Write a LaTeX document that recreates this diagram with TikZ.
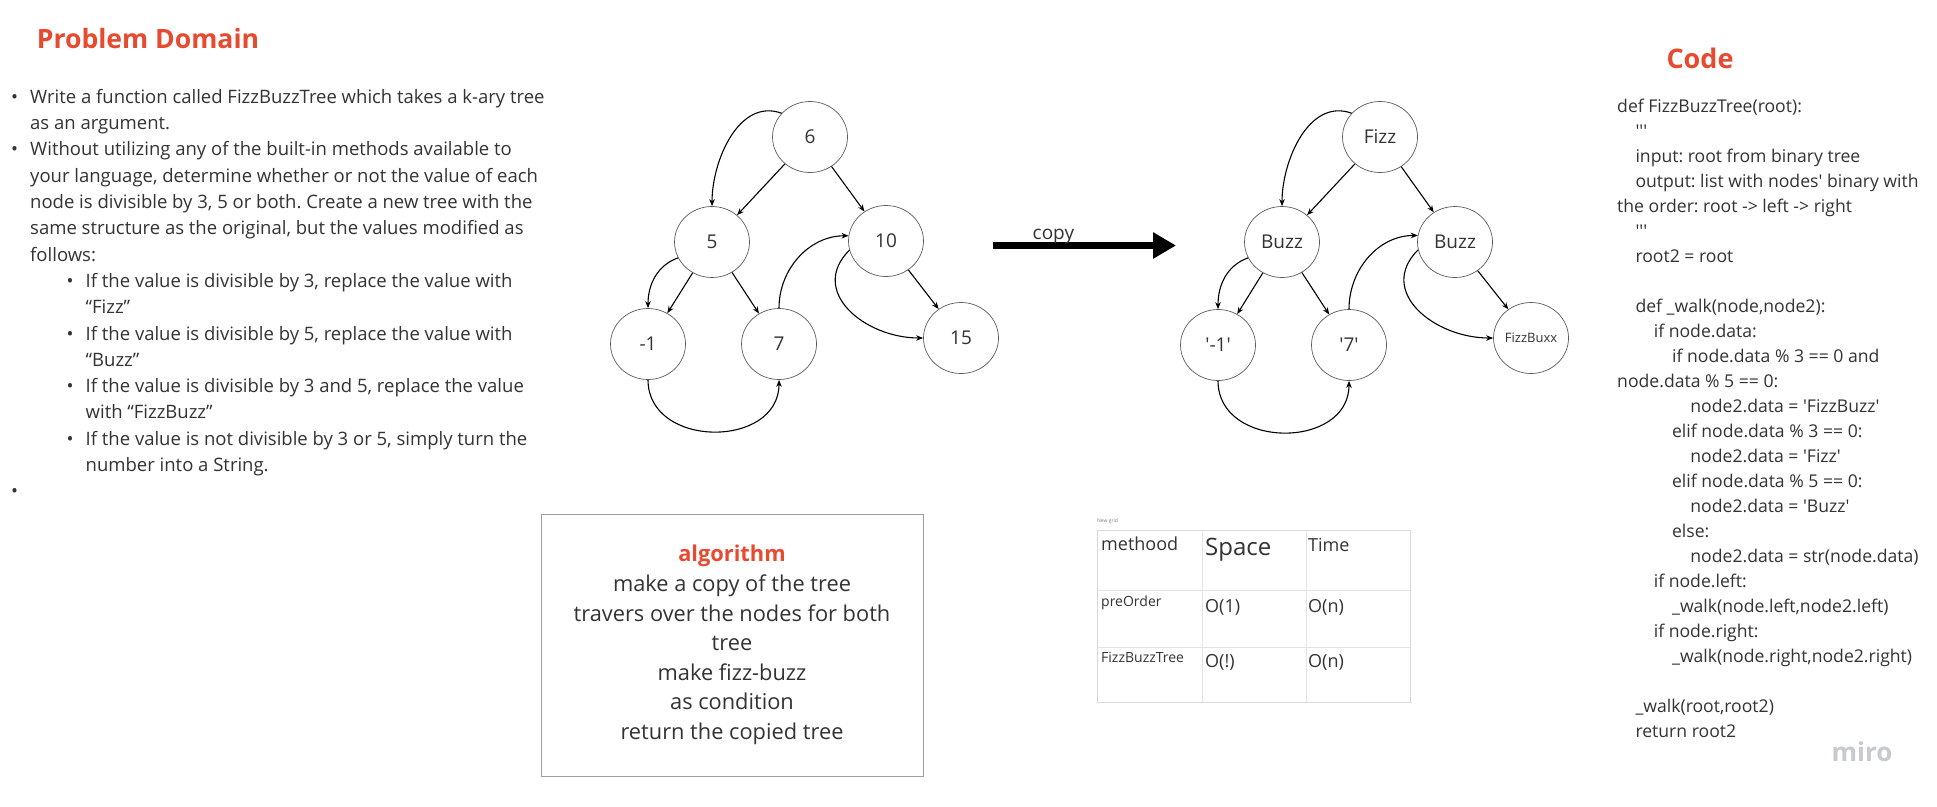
\documentclass[tikz,border=0pt]{standalone}
\usepackage{fontspec}
\setmainfont{Open Sans}
\usetikzlibrary{arrows.meta,positioning,calc,shapes.geometric}

\definecolor{titlered}{HTML}{E84A2F}
\definecolor{bodytext}{HTML}{333333}
\definecolor{ringgray}{HTML}{5A5A5A}
\definecolor{gridline}{HTML}{E4E4E4}
\definecolor{mirogray}{HTML}{C8C9D1}

\frenchspacing
\newcommand{\sq}{\textquotesingle}
\newlength{\codestep}
\setlength{\codestep}{18.3pt}
\newcommand{\codeind}[1]{\hspace*{#1\codestep}}
\newcommand{\bulA}{\llap{\textbullet\hspace{12pt}}}
\newcommand{\bulB}{\hspace*{55.5pt}\llap{\textbullet\hspace{12pt}}}

\tikzset{
  treenode/.style={ellipse, draw=ringgray, line width=0.7pt, minimum width=75pt,
    minimum height=71pt, inner sep=0pt, text=bodytext, font=\fontsize{19}{22}\selectfont},
  link/.style={-{Stealth[length=7pt,width=5.5pt]}, line width=1.1pt, black},
  heading/.style={font=\fontsize{27}{32}\selectfont\bfseries, text=titlered},
  cell/.style={anchor=base west, inner sep=0pt, text=bodytext}
}

\begin{document}
\begin{tikzpicture}[x=1pt,y=1pt]
    \useasboundingbox[fill=white] (0,0) rectangle (1937,-806);

    % Problem domain
    \node[heading, font=\fontsize{26.6}{32}\selectfont\bfseries] (pdtitle) at (148,-39) {Problem Domain};
    \node[anchor=north west, inner sep=0pt, align=left, text=bodytext,
          font=\fontsize{18.5}{26.3}\selectfont] (pdtext) at (30,-89) {%
      \bulA Write a function called FizzBuzzTree which takes a k-ary tree\\
      as an argument.\\
      \bulA Without utilizing any of the built-in methods available to\\
      your language, determine whether or not the value of each\\
      node is divisible by 3, 5 or both. Create a new tree with the\\
      same structure as the original, but the values modified as\\
      follows:\\
      \bulB If the value is divisible by 3, replace the value with\\
      \hspace*{55.5pt}“Fizz”\\
      \bulB If the value is divisible by 5, replace the value with\\
      \hspace*{55.5pt}“Buzz”\\
      \bulB If the value is divisible by 3 and 5, replace the value\\
      \hspace*{55.5pt}with “FizzBuzz”\\
      \bulB If the value is not divisible by 3 or 5, simply turn the\\
      \hspace*{55.5pt}number into a String.\\
      \bulA\strut};

    % Original tree
    \node[treenode] (n6) at (810,-137) {6};
    \node[treenode] (n5) at (712,-242) {5};
    \node[treenode] (n10) at (886,-241) {10};
    \node[treenode] (nm1) at (648,-344) {-1};
    \node[treenode] (n7) at (779,-344) {7};
    \node[treenode] (n15) at (961,-338) {15};

    \draw[link] (n6) -- (n5);
    \draw[link] (n6) -- (n10);
    \draw[link] (n5) -- (nm1);
    \draw[link] (n5) -- (n7);
    \draw[link] (n10) -- (n15);
    \draw[link] (n6.140) to[out=160, in=90] (n5.north);
    \draw[link] (n5.205) to[out=200, in=90] (nm1.north);
    \draw[link] (n7.north) to[out=90, in=180] (n10.172);
    \draw[link] (n10.194) to[out=225, in=180, looseness=1.3] (n15.west);
    \draw[link] (nm1.south) to[out=-90, in=-90, looseness=1.35] (n7.south);

    % Copy arrow
    \coordinate (copyfrom) at (993,-245.5);
    \coordinate (copyto) at (1176,-245.5);
    \draw[line width=7pt, -{Triangle[length=23pt,width=25pt]}] (copyfrom) -- (copyto)
        node[pos=0.33, anchor=base, yshift=6pt, text=bodytext,
             font=\fontsize{19}{22}\selectfont] (copylbl) {copy};

    % Copied tree
    \node[treenode] (f1) at (1380,-137) {Fizz};
    \node[treenode] (b1) at (1282,-242) {Buzz};
    \node[treenode] (b2) at (1455,-242) {Buzz};
    \node[treenode] (s1) at (1218,-345) {\sq-1\sq};
    \node[treenode] (s7) at (1349,-345) {\sq 7\sq};
    \node[treenode, font=\fontsize{13}{15}\selectfont] (fb) at (1531,-338) {FizzBuxx};

    \draw[link] (f1) -- (b1);
    \draw[link] (f1) -- (b2);
    \draw[link] (b1) -- (s1);
    \draw[link] (b1) -- (s7);
    \draw[link] (b2) -- (fb);
    \draw[link] (f1.140) to[out=160, in=90] (b1.north);
    \draw[link] (b1.205) to[out=200, in=90] (s1.north);
    \draw[link] (s7.north) to[out=90, in=180] (b2.170);
    \draw[link] (b2.192) to[out=225, in=180, looseness=1.3] (fb.west);
    \draw[link] (s1.south) to[out=-90, in=-90, looseness=1.35] (s7.south);

    % Algorithm box
    \node[draw=gray!75, line width=1pt, minimum width=382pt, minimum height=262pt,
          align=center, text=bodytext, font=\fontsize{21.8}{29.6}\selectfont]
          (algo) at (732,-645) {%
      {\bfseries\color{titlered}algorithm}\\
      make a copy of the tree\\
      travers over the nodes for both\\
      tree\\
      make fizz-buzz\\
      as condition\\
      return the copied tree};

    % Complexity grid
    \node[anchor=base west, inner sep=0pt, text=gray, font=\fontsize{5}{6}\selectfont]
          (gridcap) at (1097,-522) {New grid};
    \draw[gridline, line width=0.8pt] (1202,-530) -- (1202,-702);
    \draw[gridline, line width=0.8pt] (1306,-530) -- (1306,-702);
    \draw[gridline, line width=0.8pt] (1097,-590) -- (1410,-590);
    \draw[gridline, line width=0.8pt] (1097,-647) -- (1410,-647);
    \draw[gray!30, line width=1pt] (1097,-530) rectangle (1410,-702);
    \node[cell, font=\fontsize{18}{20}\selectfont] (hmeth) at (1101,-550) {methood};
    \node[cell, font=\fontsize{24}{26}\selectfont] (hspace) at (1205,-555) {Space};
    \node[cell, font=\fontsize{18}{20}\selectfont] (htime) at (1308,-551) {Time};
    \node[cell, font=\fontsize{14}{16}\selectfont] (rpre) at (1101,-606) {preOrder};
    \node[cell, font=\fontsize{18}{20}\selectfont] (rpres) at (1205,-612) {O(1)};
    \node[cell, font=\fontsize{18}{20}\selectfont] (rpret) at (1308,-612) {O(n)};
    \node[cell, font=\fontsize{14}{16}\selectfont] (rfbt) at (1101,-662) {FizzBuzzTree};
    \node[cell, font=\fontsize{18}{20}\selectfont] (rfbs) at (1205,-667) {O(!)};
    \node[cell, font=\fontsize{18}{20}\selectfont] (rfbtt) at (1308,-667) {O(n)};

    % Code
    \node[heading] (codetitle) at (1700,-58) {Code};
    \node[anchor=north west, inner sep=0pt, align=left, text=bodytext,
          font=\fontsize{17.6}{25}\selectfont] (codetext) at (1617,-98.7) {%
      def FizzBuzzTree(root):\\
      \codeind{1}\sq\sq\sq\\
      \codeind{1}input: root from binary tree\\
      \codeind{1}output: list with nodes\sq\ binary with\\
      the order: root -> left -> right\\
      \codeind{1}\sq\sq\sq\\
      \codeind{1}root2 = root\\
      \strut\\
      \codeind{1}def \_walk(node,node2):\\
      \codeind{2}if node.data:\\
      \codeind{3}if node.data \% 3 == 0 and\\
      node.data \% 5 == 0:\\
      \codeind{4}node2.data = \sq FizzBuzz\sq\\
      \codeind{3}elif node.data \% 3 == 0:\\
      \codeind{4}node2.data = \sq Fizz\sq\\
      \codeind{3}elif node.data \% 5 == 0:\\
      \codeind{4}node2.data = \sq Buzz\sq\\
      \codeind{3}else:\\
      \codeind{4}node2.data = str(node.data)\\
      \codeind{2}if node.left:\\
      \codeind{3}\_walk(node.left,node2.left)\\
      \codeind{2}if node.right:\\
      \codeind{3}\_walk(node.right,node2.right)\\
      \strut\\
      \codeind{1}\_walk(root,root2)\\
      \codeind{1}return root2};

    \node[font=\fontsize{26}{30}\selectfont\bfseries, text=mirogray] (miro) at (1862,-752) {miro};
\end{tikzpicture}
\end{document}
